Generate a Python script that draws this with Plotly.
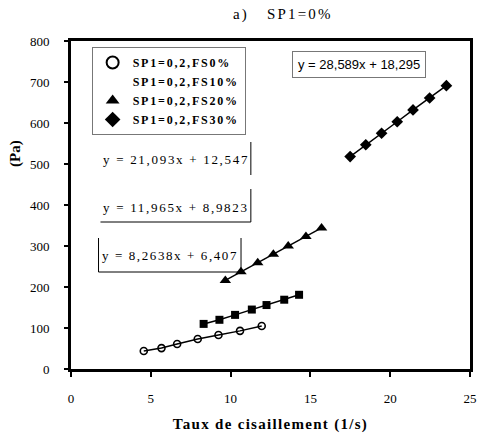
import plotly.graph_objects as go

# Data
x_fs0 = [4.56, 5.67, 6.65, 7.94, 9.24, 10.59, 11.95]
y_fs0 = [44, 51, 61, 73, 83, 93, 105]

x_fs10 = [8.31, 9.30, 10.28, 11.33, 12.25, 13.36, 14.29]
y_fs10 = [110, 120, 132, 145, 156, 169, 181]

x_fs20 = [9.67, 10.65, 11.70, 12.68, 13.61, 14.72, 15.70]
y_fs20 = [216, 237, 259, 280, 300, 323, 344]

x_fs30 = [17.49, 18.47, 19.46, 20.44, 21.43, 22.47, 23.52]
y_fs30 = [518, 547, 575, 603, 632, 661, 691]

names = ["SP1=0,2,FS0%", "SP1=0,2,FS10%", "SP1=0,2,FS20%", "SP1=0,2,FS30%"]
equations = ["y = 8,2638x + 6,407", "y = 11,965x + 8,9823",
             "y = 21,093x + 12,547", "y = 28,589x + 18,295"]
x_ticks = [0, 5, 10, 15, 20, 25]
y_ticks = [0, 100, 200, 300, 400, 500, 600, 700, 800]

SERIF = "Liberation Serif"
SANS = "Liberation Sans"


def spaced(t, ls):
    return f'<span style="letter-spacing:{ls}px">{t}</span>'


series = [
    (x_fs0, y_fs0, dict(symbol="circle-open", size=7, color="black", line=dict(width=1.6, color="black"))),
    (x_fs10, y_fs10, dict(symbol="square", size=8, color="black")),
    (x_fs20, y_fs20, dict(symbol="triangle-up", size=10, color="black")),
    (x_fs30, y_fs30, dict(symbol="diamond", size=9, color="black")),
]

fig = go.Figure()
for (xs, ys, mk) in series:
    fig.add_trace(go.Scatter(x=xs, y=ys, mode="lines+markers", showlegend=False,
                             line=dict(color="black", width=1.5), marker=mk))

# legend-only entries (markers only; the FS10% entry shows no symbol in the reference)
for i, (xs, ys, mk) in enumerate(series):
    m = dict(mk)
    m["size"] = 7
    if i == 1:
        m["color"] = "rgba(0,0,0,0)"
    fig.add_trace(go.Scatter(x=[None], y=[None], mode="markers",
                             name=spaced(names[i], 1.8), marker=m))

# Equation annotations
eq_font = dict(family=SERIF, size=13, color="black")
fig.add_annotation(x=(364 - 71) / 406, y=(369 - 65) / 328, xref="paper", yref="paper",
                   xanchor="center", yanchor="middle",
                   text=equations[3], showarrow=False,
                   font=dict(family=SANS, size=13, color="black"),
                   bordercolor="#777", borderwidth=1, borderpad=5, bgcolor="white")
fig.add_annotation(x=(178 - 71) / 406, y=(369 - 159) / 328, xref="paper", yref="paper",
                   xanchor="center", yanchor="middle",
                   text=spaced(equations[2], 1.7), showarrow=False, font=eq_font)
fig.add_annotation(x=(178 - 71) / 406, y=(369 - 207) / 328, xref="paper", yref="paper",
                   xanchor="center", yanchor="middle",
                   text=spaced(equations[1], 1.7), showarrow=False, font=eq_font)
fig.add_annotation(x=(172 - 71) / 406, y=(369 - 255) / 328, xref="paper", yref="paper",
                   xanchor="center", yanchor="middle",
                   text=spaced(equations[0], 1.6), showarrow=False, font=eq_font)

def px_line(x0, y0, x1, y1):
    fig.add_shape(type="line", xref="paper", yref="paper",
                  x0=(x0 - 71) / 406, x1=(x1 - 71) / 406,
                  y0=(369 - y0) / 328, y1=(369 - y1) / 328,
                  line=dict(color="black", width=1))

px_line(254, 142, 254, 175)
px_line(254, 189, 254, 222)
px_line(101, 222, 254, 222)
px_line(99, 238, 99, 272)
px_line(99, 272, 244, 272)
px_line(244, 238, 244, 272)

# Title
fig.add_annotation(x=(287 - 71) / 406, y=(369 - 15) / 328, xref="paper", yref="paper",
                   xanchor="center", yanchor="middle",
                   text=spaced("a)   SP1=0%", 2.2), showarrow=False,
                   font=dict(family=SERIF, size=15, color="black"))
# Y title
fig.add_annotation(x=-57 / 406, y=(369 - 153) / 328, xref="paper", yref="paper",
                   xanchor="center", yanchor="middle",
                   text="<b>(Pa)</b>", showarrow=False, textangle=-90,
                   font=dict(family=SERIF, size=15, color="black"))

fig.update_layout(
    width=484, height=439,
    margin=dict(l=71, r=7, t=41, b=70),
    paper_bgcolor="white", plot_bgcolor="white",
    font=dict(family=SERIF, size=13, color="black"),
    showlegend=True,
    legend=dict(x=(92 - 71) / 406, y=(369 - 47) / 328, xanchor="left", yanchor="top",
                bordercolor="#777", borderwidth=1, bgcolor="white",
                font=dict(family=SERIF, size=12, color="black", weight="bold"),
                itemwidth=30, tracegroupgap=0, itemsizing="constant"),
    xaxis=dict(range=[0, 25], tickvals=x_ticks, showgrid=False, zeroline=False,
               showline=True, linecolor="black", linewidth=3, mirror=True,
               ticks="outside", ticklen=5, tickwidth=2, tickcolor="black",
               ticklabelstandoff=10, tickfont=dict(family=SERIF, size=13),
               title=dict(text="<b>" + spaced("Taux de cisaillement (1/s)", 1.3) + "</b>",
                          font=dict(family=SERIF, size=15), standoff=14)),
    yaxis=dict(range=[0, 800], tickvals=y_ticks, showgrid=False, zeroline=False,
               showline=True, linecolor="black", linewidth=3, mirror=True,
               ticks="outside", ticklen=4, tickwidth=2, tickcolor="black",
               ticklabelstandoff=12, tickfont=dict(family=SERIF, size=13)),
)

fig.write_html("out.html")
